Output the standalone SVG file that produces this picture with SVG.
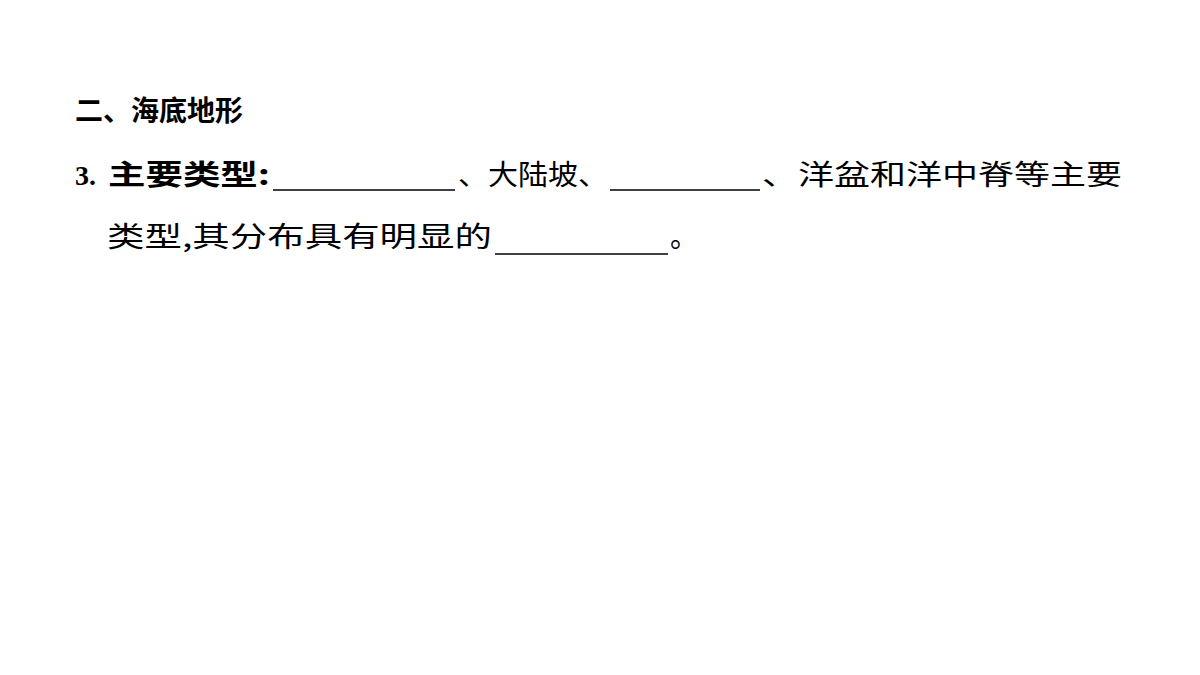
<svg xmlns="http://www.w3.org/2000/svg" width="1200" height="675" viewBox="0 0 1200 675">
<style>
text{font-family:"Noto Sans CJK SC","Liberation Serif",serif;font-size:28px;fill:#000}
.b{font-weight:bold}
.n{font-family:"Liberation Serif","Noto Sans CJK SC",serif;font-weight:bold}
line{stroke:#000;stroke-width:1.5}
</style>
<rect width="1200" height="675" fill="#fff"/>
<text class="b" x="75" y="121">二、海底地形</text>
<text class="n" x="75" y="185">3.</text>
<text class="b" x="108" y="185" textLength="162" lengthAdjust="spacingAndGlyphs">主要类型:</text>
<line x1="273" y1="190" x2="455" y2="190"/>
<text x="458" y="185" textLength="150" lengthAdjust="spacingAndGlyphs">、大陆坡、</text>
<line x1="610" y1="190" x2="760" y2="190"/>
<text x="762" y="185" textLength="360" lengthAdjust="spacingAndGlyphs">、洋盆和洋中脊等主要</text>
<text x="107" y="247" textLength="385" lengthAdjust="spacingAndGlyphs">类型,其分布具有明显的</text>
<line x1="495" y1="254" x2="668" y2="254"/>
<text x="670" y="247">。</text>
</svg>
